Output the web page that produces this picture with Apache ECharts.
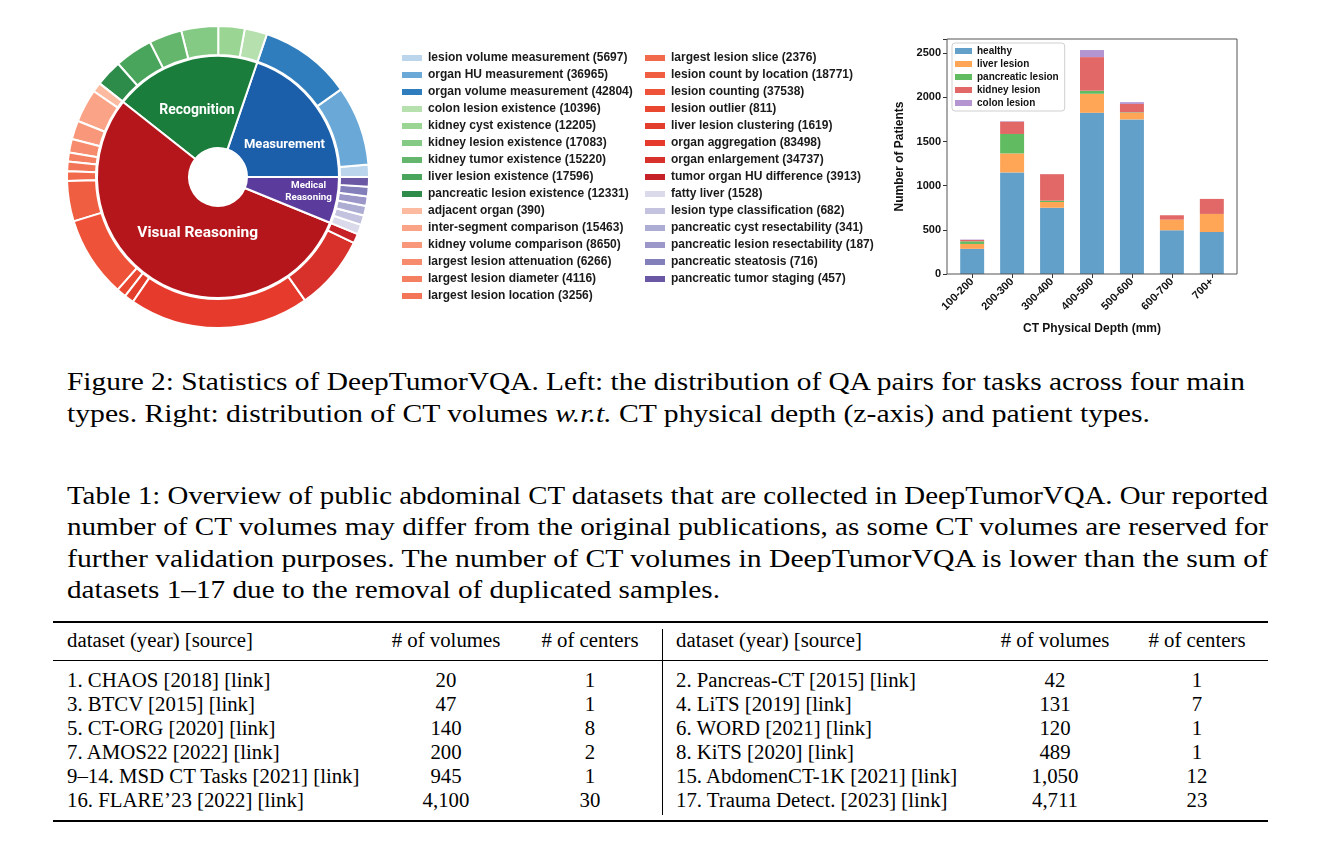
<!DOCTYPE html>
<html><head><meta charset="utf-8">
<script src="https://cdn.jsdelivr.net/npm/echarts@6/dist/echarts.min.js"></script>
<style>
html,body{margin:0;padding:0;background:#fff}
body{width:1323px;height:850px;overflow:hidden;position:relative;font-family:'Liberation Serif','Times New Roman',serif;color:#000}
#chart{position:absolute;left:0;top:0;width:1323px;height:350px}
.ln{position:absolute;left:67px;font-size:26px;line-height:31px;white-space:nowrap;transform-origin:0 50%}
.rule{position:absolute;left:53px;width:1215px;background:#000}
.t{position:absolute;font-size:20.8px;line-height:24px;white-space:nowrap}
.c{text-align:center;width:200px}
</style></head>
<body>
<div id="chart"></div>

<div class="ln" data-end="1245" style="top:366px"><span>Figure 2: Statistics of DeepTumorVQA. Left: the distribution of QA pairs for tasks across four main</span></div>
<div class="ln" data-end="1150" style="top:398px"><span>types. Right: distribution of CT volumes <i>w.r.t.</i> CT physical depth (z-axis) and patient types.</span></div>

<div class="ln" data-end="1268" style="top:480px"><span>Table 1: Overview of public abdominal CT datasets that are collected in DeepTumorVQA. Our reported</span></div>
<div class="ln" data-end="1268" style="top:511px"><span>number of CT volumes may differ from the original publications, as some CT volumes are reserved for</span></div>
<div class="ln" data-end="1268" style="top:543px"><span>further validation purposes. The number of CT volumes in DeepTumorVQA is lower than the sum of</span></div>
<div class="ln" data-end="720" style="top:574px"><span>datasets 1–17 due to the removal of duplicated samples.</span></div>

<div class="rule" style="top:621px;height:2.4px"></div>
<div class="rule" style="top:660px;height:1.4px"></div>
<div class="rule" style="top:820px;height:2.4px"></div>
<div style="position:absolute;left:662px;top:629px;width:1px;height:186px;background:#000"></div>
<div id="tbl"></div>

<script>
// ---------------- data: sunburst (QA pairs per task) ----------------
const groupNames = ['Measurement', 'Recognition', 'Visual Reasoning', 'Medical Reasoning'];
const taskNames = [
  'lesion volume measurement', 'organ HU measurement', 'organ volume measurement',
  'colon lesion existence', 'kidney cyst existence', 'kidney lesion existence',
  'kidney tumor existence', 'liver lesion existence', 'pancreatic lesion existence',
  'adjacent organ', 'inter-segment comparison', 'kidney volume comparison',
  'largest lesion attenuation', 'largest lesion diameter', 'largest lesion location',
  'largest lesion slice', 'lesion count by location', 'lesion counting', 'lesion outlier',
  'liver lesion clustering', 'organ aggregation', 'organ enlargement', 'tumor organ HU difference',
  'fatty liver', 'lesion type classification', 'pancreatic cyst resectability',
  'pancreatic lesion resectability', 'pancreatic steatosis', 'pancreatic tumor staging'
];
const taskCounts = [
  5697, 36965, 42804,
  10396, 12205, 17083, 15220, 17596, 12331,
  390, 15463, 8650, 6266, 4116, 3256, 2376, 18771, 37538, 811, 1619, 83498, 34737, 3913,
  1528, 682, 341, 187, 716, 457
];
const taskGroup = [
  0, 0, 0,
  1, 1, 1, 1, 1, 1,
  2, 2, 2, 2, 2, 2, 2, 2, 2, 2, 2, 2, 2, 2,
  3, 3, 3, 3, 3, 3
];

// ---------------- data: stacked bars (patients per CT depth) ----------------
const depthBins = ['100-200', '200-300', '300-400', '400-500', '500-600', '600-700', '700+'];
const patientTypes = ['healthy', 'liver lesion', 'pancreatic lesion', 'kidney lesion', 'colon lesion'];
const healthy          = [285, 1150, 750, 1825, 1750, 495, 475];
const liverLesion      = [55, 215, 65, 215, 75, 120, 205];
const pancreaticLesion = [30, 220, 15, 35, 5, 0, 0];
const kidneyLesion     = [15, 140, 300, 380, 95, 50, 170];
const colonLesion      = [5, 5, 0, 80, 20, 0, 0];
const yTicks = [0, 500, 1000, 1500, 2000, 2500];

// ---------------- data: table ----------------
const tableHeader = ['dataset (year) [source]', '# of volumes', '# of centers'];
const tableLeft = [
  ['1. CHAOS [2018] [link]', '20', '1'],
  ['3. BTCV [2015] [link]', '47', '1'],
  ['5. CT-ORG [2020] [link]', '140', '8'],
  ['7. AMOS22 [2022] [link]', '200', '2'],
  ['9–14. MSD CT Tasks [2021] [link]', '945', '1'],
  ['16. FLARE’23 [2022] [link]', '4,100', '30']
];
const tableRight = [
  ['2. Pancreas-CT [2015] [link]', '42', '1'],
  ['4. LiTS [2019] [link]', '131', '7'],
  ['6. WORD [2021] [link]', '120', '1'],
  ['8. KiTS [2020] [link]', '489', '1'],
  ['15. AbdomenCT-1K [2021] [link]', '1,050', '12'],
  ['17. Trauma Detect. [2023] [link]', '4,711', '23']
];

// ---------------- styles ----------------
const groupColors = ['#1b5eaa', '#1a7d3b', '#b5161c', '#5b3c9c'];
const taskColors = [
  '#bad5ec', '#6aa9d7', '#2f7dbd',
  '#b6e0ae', '#9bd594', '#84c984', '#64b66d', '#48a55b', '#2e8c4a',
  '#fcbba1', '#faa386', '#f8977a', '#f68b6d', '#f47f61', '#f37557', '#f26a4c', '#f05e42',
  '#ee5239', '#e9472f', '#e33e2b', '#e63b2c', '#d8302a', '#c62126',
  '#dadaeb', '#c3c3df', '#adadd3', '#9b98c9', '#827fbb', '#6a58a4'
];
const barColors = ['#62a0ca', '#ffa556', '#61bc61', '#e26868', '#b494d1'];
const groupLabels = [
  {fontSize: 13, lineHeight: 26, padding: [0, 0, 0, 6]},
  {fontSize: 14, lineHeight: 16, padding: [0, 0, 0, 2]},
  {fontSize: 15.5, lineHeight: 22, padding: [0, 0, 0, 38]},
  {fontSize: 9.8, lineHeight: 12, padding: [0, 0, 0, 28]}
];
const groupLabelText = ['\nMeasurement', '\nRecognition', 'Visual Reasoning\n', 'Medical\nReasoning'];

// ---------------- caption line widths ----------------
document.querySelectorAll('.ln').forEach(function (el) {
  const w = el.firstChild.getBoundingClientRect().width;
  const end = +el.getAttribute('data-end');
  el.style.transform = 'scaleX(' + ((end - 67) / w) + ')';
});

// ---------------- table ----------------
(function () {
  const host = document.getElementById('tbl');
  function cell(txt, left, top, center) {
    const d = document.createElement('div');
    d.className = 't' + (center ? ' c' : '');
    d.style.left = (center ? left - 100 : left) + 'px';
    d.style.top = top + 'px';
    d.textContent = txt;
    host.appendChild(d);
  }
  const cols = [[67, 446, 590], [676, 1055, 1197]];
  [0, 1].forEach(s => {
    cell(tableHeader[0], cols[s][0], 628, false);
    cell(tableHeader[1], cols[s][1], 628, true);
    cell(tableHeader[2], cols[s][2], 628, true);
    const rows = s === 0 ? tableLeft : tableRight;
    rows.forEach((r, i) => {
      const top = 668 + i * 24;
      cell(r[0], cols[s][0], top, false);
      cell(r[1], cols[s][1], top, true);
      cell(r[2], cols[s][2], top, true);
    });
  });
})();

// ---------------- chart ----------------
const chart = echarts.init(document.getElementById('chart'));
const countByName = {};
taskNames.forEach((n, i) => { countByName[n] = taskCounts[i]; });

const outerData = taskNames.map((n, i) => ({name: n, value: taskCounts[i], itemStyle: {color: taskColors[i]}}));
const groupSums = groupNames.map((g, k) => taskCounts.reduce((s, v, i) => s + (taskGroup[i] === k ? v : 0), 0));
function innerData(vals) {
  return groupNames.map((g, k) => ({
    name: g, value: vals[k], itemStyle: {color: groupColors[k]},
    label: Object.assign({formatter: groupLabelText[k]}, groupLabels[k])
  }));
}

const sans = 'Liberation Sans, Arial, sans-serif';
const legendCommon = {
  orient: 'vertical', itemWidth: 22, itemHeight: 8, itemGap: 5, padding: 0, icon: 'rect',
  selectedMode: false,
  textStyle: {fontSize: 12, fontWeight: 'bold', fontFamily: sans, color: '#1a1a1a'},
  formatter: n => n + ' (' + countByName[n] + ')'
};
const barSeriesData = [healthy, liverLesion, pancreaticLesion, kidneyLesion, colonLesion];

const option = {
  animation: false,
  legend: [
    Object.assign({}, legendCommon, {left: 400, top: 52, data: taskNames.slice(0, 15)}),
    Object.assign({}, legendCommon, {left: 643, top: 52, data: taskNames.slice(15)}),
    {
      orient: 'vertical', left: 952, top: 43, itemWidth: 17, itemHeight: 6, itemGap: 3,
      padding: [3, 6, 3, 3], icon: 'rect', selectedMode: false, data: patientTypes,
      backgroundColor: 'rgba(255,255,255,0.85)', borderColor: '#cfcfcf', borderWidth: 1, borderRadius: 3,
      textStyle: {fontSize: 10, fontWeight: 'bold', fontFamily: sans, color: '#111'}
    }
  ],
  grid: [
    {left: 947, top: 39, width: 290, height: 235, show: true, borderColor: '#555', borderWidth: 1, backgroundColor: 'transparent', z: 5},
    {left: 952.2, top: 39, width: 279.6, height: 235}
  ],
  xAxis: [
    {gridIndex: 0, type: 'value', show: false, min: 0, max: 1},
    {
      gridIndex: 1, type: 'category', data: depthBins,
      axisLine: {show: false},
      axisTick: {show: true, alignWithLabel: true, length: 4, lineStyle: {color: '#333'}},
      axisLabel: {rotate: 45, fontSize: 11, fontWeight: 'bold', fontFamily: sans, color: '#111', margin: 6},
      name: 'CT Physical Depth (mm)', nameLocation: 'middle', nameGap: 49,
      nameTextStyle: {fontSize: 12, fontWeight: 'bold', fontFamily: sans, color: '#111'}
    }
  ],
  yAxis: [
    {
      gridIndex: 0, type: 'value', min: 0, max: 2660, interval: 500,
      axisLine: {show: false}, splitLine: {show: false},
      axisTick: {show: true, length: 4, lineStyle: {color: '#333'}},
      axisLabel: {fontSize: 11, fontWeight: 'bold', fontFamily: sans, color: '#111', margin: 6,
        formatter: v => (yTicks.indexOf(v) >= 0 ? String(v) : '')},
      name: 'Number of Patients', nameLocation: 'middle', nameGap: 41,
      nameTextStyle: {fontSize: 12, fontWeight: 'bold', fontFamily: sans, color: '#111'}
    },
    {gridIndex: 1, type: 'value', min: 0, max: 2660, show: false, splitLine: {show: false}}
  ],
  series: [
    {
      type: 'pie', name: 'tasks', center: [218, 177], radius: [122, 151],
      startAngle: 0, clockwise: false, minAngle: 3.7, silent: true,
      label: {show: false}, labelLine: {show: false},
      itemStyle: {borderColor: '#fff', borderWidth: 2},
      emphasis: {disabled: true},
      data: outerData
    },
    {
      type: 'pie', name: 'types', center: [218, 177], radius: [29, 121],
      startAngle: 0, clockwise: false, silent: true,
      label: {show: true, position: 'inside', color: '#fff', fontWeight: 'bold', fontFamily: 'Roboto, Liberation Sans, sans-serif'},
      labelLine: {show: false},
      itemStyle: {borderColor: '#fff', borderWidth: 2},
      emphasis: {disabled: true},
      data: innerData(groupSums)
    }
  ].concat(patientTypes.map((p, k) => ({
    type: 'bar', name: p, xAxisIndex: 1, yAxisIndex: 1, stack: 'patients', barWidth: '60%',
    itemStyle: {color: barColors[k]}, data: barSeriesData[k]
  })))
};
chart.setOption(option);

// align the inner ring with the outer ring as laid out by ECharts (minAngle)
try {
  const d = chart.getModel().getSeriesByIndex(0).getData();
  const spans = [0, 0, 0, 0];
  for (let i = 0; i < d.count(); i++) {
    const l = d.getItemLayout(i);
    spans[taskGroup[d.getRawIndex(i)]] += Math.abs(l.endAngle - l.startAngle);
  }
  chart.setOption({series: [{}, {data: innerData(spans)}]});
} catch (e) { }
</script>
</body></html>
